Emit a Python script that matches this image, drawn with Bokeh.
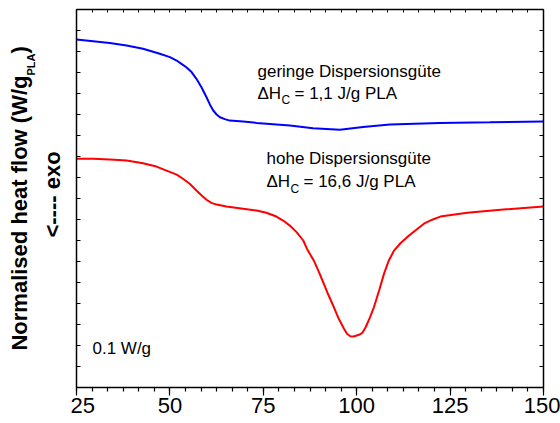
import math
from bokeh.plotting import figure
from bokeh.layouts import row
from bokeh.models import Range1d, LinearAxis, FixedTicker, Label, CustomJSTickFormatter
from bokeh.embed import file_html
from bokeh.resources import INLINE

# Temperature (°C) and normalised heat flow (arbitrary offset, W/g)
blue_x = [25, 33.9, 38.4, 42.8, 47.3, 50.0, 51.8, 53.1, 54.4, 55.8, 57.1, 58.45, 59.8, 60.7,
          61.6, 62.5, 63.4, 64.7, 66.0, 69.6, 73.2, 82.1, 88.3, 95.5, 101.7, 108.9, 122.2,
          135.6, 150]
blue_y = [1.657, 1.641, 1.629, 1.613, 1.589, 1.573, 1.557, 1.541, 1.525, 1.502, 1.470, 1.430,
          1.382, 1.348, 1.319, 1.300, 1.287, 1.278, 1.271, 1.267, 1.260, 1.248, 1.235, 1.227,
          1.240, 1.252, 1.260, 1.263, 1.267]

red_x = [25, 29.5, 33.9, 38.4, 42.8, 46.4, 49.1, 51.8, 53.5, 55.3, 57.1, 58.5, 59.8, 61.1,
         62.5, 65.1, 69.6, 73.2, 75.8, 78.5, 80.3, 82.1, 83.9, 85.7, 86.7, 88.5, 89.9, 91.2,
         92.5, 93.9, 95.2, 96.6, 97.4, 98.3, 99.2, 100.6, 101.5, 102.4, 103.5, 104.6, 106.0,
         107.3, 108.6, 110.0, 111.7, 113.5, 115.7, 118.0, 120.2, 122.4, 129.6, 138.5, 150]
red_y = [1.089, 1.089, 1.086, 1.081, 1.068, 1.052, 1.033, 1.014, 0.994, 0.970, 0.938, 0.914,
         0.894, 0.879, 0.871, 0.862, 0.851, 0.843, 0.832, 0.814, 0.795, 0.771, 0.740, 0.700,
         0.660, 0.605, 0.549, 0.494, 0.438, 0.382, 0.327, 0.280, 0.256, 0.244, 0.243, 0.251,
         0.260, 0.287, 0.332, 0.382, 0.462, 0.541, 0.605, 0.652, 0.687, 0.716, 0.748, 0.780,
         0.799, 0.814, 0.832, 0.846, 0.862]

x_ticks = [25, 50, 75, 100, 125, 150]
x_labels = {25: "25", 50: "50", 75: "75", 100: "100", 125: "125", 150: "150"}

FONT = "Liberation Sans"

yr = Range1d(0, 1.8)

p = figure(width=490, height=423, output_backend="svg", toolbar_location=None,
           x_range=Range1d(25, 150), y_range=yr,
           min_border_left=6, min_border_right=17, min_border_top=9, min_border_bottom=36,
           x_axis_type=None, y_axis_type=None)
p.grid.visible = False
p.outline_line_color = None

minor_x = [25 + i * 25 / 6 for i in range(31)]
y_tick_pos = [i * 0.1 for i in range(19)]
blank = CustomJSTickFormatter(code="return ''")

# bottom axis
xb = LinearAxis(ticker=FixedTicker(ticks=x_ticks, minor_ticks=minor_x))
xb.major_label_overrides = x_labels
xb.major_tick_in = 0
xb.major_tick_out = 8
xb.minor_tick_in = 0
xb.minor_tick_out = 4
xb.major_label_standoff = 2
xb.major_label_text_font = FONT
xb.major_label_text_font_size = "22px"
xb.major_label_text_color = "black"
xb.axis_line_width = 1.5
xb.major_tick_line_width = 1.2
xb.minor_tick_line_width = 1.2
p.add_layout(xb, "below")

# top axis
xt = LinearAxis(ticker=FixedTicker(ticks=minor_x, minor_ticks=[]), formatter=blank)
xt.major_tick_in = 3
xt.major_tick_out = 0
xt.minor_tick_line_color = None
xt.major_label_text_font_size = "0px"
xt.major_label_standoff = 0
xt.axis_line_width = 1.5
xt.major_tick_line_width = 1
p.add_layout(xt, "above")

# left & right axes
for side in ["left", "right"]:
    ya = LinearAxis(ticker=FixedTicker(ticks=y_tick_pos, minor_ticks=[]), formatter=blank)
    ya.major_tick_in = 4
    ya.major_tick_out = 0
    ya.minor_tick_line_color = None
    ya.major_label_text_font_size = "0px"
    ya.major_label_standoff = 0
    ya.axis_line_width = 1.5
    ya.major_tick_line_width = 1.2
    p.add_layout(ya, side)

p.line(blue_x, blue_y, line_color="#0000ff", line_width=2)
p.line(red_x, red_y, line_color="#ff0000", line_width=2)


def lab(fig, x, y, s, size, dx=0, dy=0, bold=False, angle=0, baseline="alphabetic"):
    fig.add_layout(Label(x=x, y=y, text=s, x_offset=dx, y_offset=dy, angle=angle,
                         text_font=FONT, text_font_size=f"{size}px",
                         text_font_style="bold" if bold else "normal",
                         text_align="left", text_baseline=baseline, text_color="black"))


# annotations inside the plot
lab(p, 73.45, 1.505, "geringe Dispersionsgüte", 17)
lab(p, 73.45, 1.401, "ΔH", 17)
lab(p, 73.45, 1.401, "C", 12, dx=24, dy=-7)
lab(p, 73.45, 1.401, "= 1,1 J/g PLA", 17, dx=37)

lab(p, 75.86, 1.090, "hohe Dispersionsgüte", 17)
lab(p, 75.86, 0.980, "ΔH", 17)
lab(p, 75.86, 0.980, "C", 12, dx=24, dy=-7)
lab(p, 75.86, 0.980, "= 16,6 J/g PLA", 17, dx=37)

lab(p, 29.28, 0.184, "0.1 W/g", 17)

# left strip carrying the rotated y-axis title
left = figure(width=70, height=423, output_backend="svg", toolbar_location=None,
              x_range=Range1d(0, 70), y_range=yr,
              min_border_left=0, min_border_right=0, min_border_top=9, min_border_bottom=36,
              x_axis_type=None, y_axis_type=None)
left.grid.visible = False
left.outline_line_color = None

lab(left, 19, 0.176, "Normalised heat flow (W/g", 22, bold=True, angle=math.pi / 2, baseline="middle")
lab(left, 30, 0.176, "PLA", 11, dy=275, bold=True, angle=math.pi / 2, baseline="middle")
lab(left, 19, 0.176, ")", 22, dy=297, bold=True, angle=math.pi / 2, baseline="middle")
lab(left, 52, 0.714, "<---- exo", 22, bold=True, angle=math.pi / 2, baseline="middle")

layout = row(left, p)
open("out.html", "w").write(file_html(layout, INLINE))
